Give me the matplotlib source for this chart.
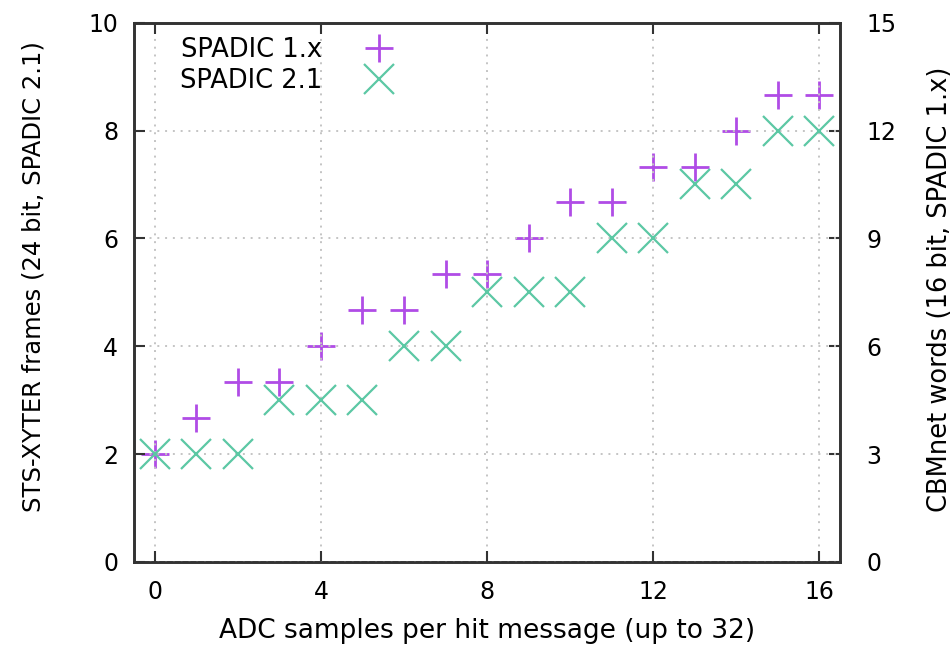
import matplotlib
matplotlib.use("Agg")
import matplotlib.pyplot as plt

# data
samples = [0, 1, 2, 3, 4, 5, 6, 7, 8, 9, 10, 11, 12, 13, 14, 15, 16]
cbmnet_words = [3, 4, 5, 5, 6, 7, 7, 8, 8, 9, 10, 10, 11, 11, 12, 13, 13]   # SPADIC 1.x (right axis)
sts_frames = [2, 2, 2, 3, 3, 3, 4, 4, 5, 5, 5, 6, 6, 7, 7, 8, 8]             # SPADIC 2.1 (left axis)
x_ticks = [0, 4, 8, 12, 16]
y_ticks = [0, 2, 4, 6, 8, 10]
y2_ticks = [0, 3, 6, 9, 12, 15]

PURPLE = "#b04ce6"
GREEN = "#5cc8a4"
SPINE = "#333333"

plt.rcParams["font.family"] = "DejaVu Sans"

fig = plt.figure(figsize=(9.52, 6.53), dpi=100)
ax = fig.add_axes([0.1408, 0.1394, 0.7416, 0.8258])
ax2 = ax.twinx()

ax.set_xlim(-0.5, 16.5)
ax.set_ylim(0, 10)
ax2.set_ylim(0, 15)

ax.set_xticks(x_ticks)
ax.set_yticks(y_ticks)
ax2.set_yticks(y2_ticks)

ax.grid(True, linestyle=(0, (1, 3)), color="#c4c4c4", linewidth=1.4, zorder=0)

h1, = ax2.plot(samples, cbmnet_words, linestyle="none", marker="+",
               markersize=20.5, markeredgewidth=2.0, color=PURPLE,
               label="SPADIC 1.x", zorder=3)
h2, = ax.plot(samples, sts_frames, linestyle="none", marker="x",
              markersize=21, markeredgewidth=1.6, color=GREEN,
              label="SPADIC 2.1", zorder=3)
ax.set_zorder(ax2.get_zorder() + 1)
ax.patch.set_visible(False)

for a in (ax, ax2):
    for s in a.spines.values():
        s.set_linewidth(1.9)
        s.set_color(SPINE)

ax.tick_params(axis="x", direction="in", length=8, width=1.5, color=SPINE,
               top=True, labelsize=17, pad=13)
ax.tick_params(axis="y", direction="in", length=8, width=1.5, color=SPINE,
               right=False, labelsize=17, pad=11.5)
ax2.tick_params(axis="y", direction="in", length=8, width=1.5, color=SPINE,
                labelsize=17, pad=19)

ax.set_xlabel("ADC samples per hit message (up to 32)", fontsize=19)
ax.set_ylabel("STS-XYTER frames (24 bit, SPADIC 2.1)", fontsize=17.5)
ax2.set_ylabel("CBMnet words (16 bit, SPADIC 1.x)", fontsize=18.5)
ax.xaxis.set_label_coords(0.5, -0.104)
ax.yaxis.set_label_coords(-0.126, 0.53)
ax2.yaxis.set_label_coords(1.123, 0.505)

ax.legend(handles=[h1, h2], loc="upper left", bbox_to_anchor=(0.065, 0.974),
          frameon=False, markerfirst=False, fontsize=18.5, borderpad=0,
          borderaxespad=0, handlelength=2.0, handletextpad=1.2,
          labelspacing=0.2)

fig.savefig("out.png", dpi=100, facecolor="white")
